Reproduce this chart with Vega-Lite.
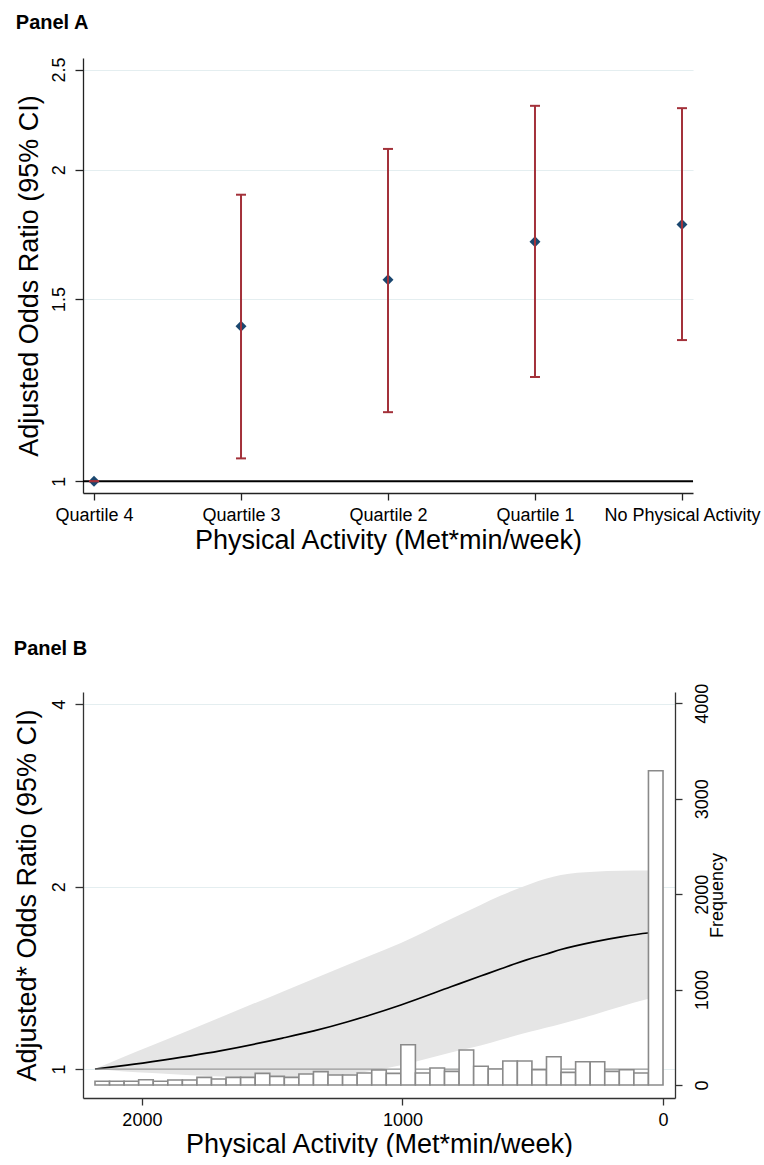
{
  "$schema": "https://vega.github.io/schema/vega-lite/v6.json",
  "background": "white",
  "padding": {"left": 13, "top": 13, "right": 0, "bottom": 0},
  "spacing": 86,
  "config": {
    "font": "Liberation Sans",
    "view": {"stroke": null},
    "axis": {
      "labelFont": "Liberation Sans", "titleFont": "Liberation Sans",
      "labelFontSize": 18, "titleFontSize": 27, "titleFontWeight": "normal",
      "labelColor": "#000", "titleColor": "#000",
      "domainColor": "#333", "tickColor": "#333", "tickSize": 7,
      "domainWidth": 1.3, "tickWidth": 1.3,
      "gridColor": "#e4eef0", "gridWidth": 1.2
    },
    "title": {"font": "Liberation Sans", "fontSize": 20, "fontWeight": "bold", "anchor": "start", "frame": "bounds", "color": "#000", "offset": 24}
  },
  "datasets": {
    "quart": [
      {"cat": "Quartile 4", "or": 1.0, "lo": 1.0, "hi": 1.0},
      {"cat": "Quartile 3", "or": 1.412, "lo": 1.052, "hi": 1.892},
      {"cat": "Quartile 2", "or": 1.566, "lo": 1.166, "hi": 2.095},
      {"cat": "Quartile 1", "or": 1.704, "lo": 1.261, "hi": 2.306},
      {"cat": "No Physical Activity", "or": 1.771, "lo": 1.369, "hi": 2.294}
    ],
    "curve": [
      {"v": 2180, "or": 1.0, "lo": 1.0, "hi": 1.0},
      {"v": 2080, "or": 1.012, "lo": 0.992, "hi": 1.043},
      {"v": 1960, "or": 1.029, "lo": 0.985, "hi": 1.095},
      {"v": 1700, "or": 1.072, "lo": 0.972, "hi": 1.217},
      {"v": 1460, "or": 1.125, "lo": 0.968, "hi": 1.342},
      {"v": 1340, "or": 1.156, "lo": 0.97, "hi": 1.409},
      {"v": 1210, "or": 1.197, "lo": 0.978, "hi": 1.486},
      {"v": 1130, "or": 1.226, "lo": 0.992, "hi": 1.535},
      {"v": 1006, "or": 1.276, "lo": 1.015, "hi": 1.614},
      {"v": 814, "or": 1.367, "lo": 1.065, "hi": 1.768},
      {"v": 700, "or": 1.424, "lo": 1.094, "hi": 1.866},
      {"v": 622, "or": 1.464, "lo": 1.118, "hi": 1.933},
      {"v": 507, "or": 1.522, "lo": 1.153, "hi": 2.023},
      {"v": 450, "or": 1.547, "lo": 1.17, "hi": 2.061},
      {"v": 392, "or": 1.575, "lo": 1.187, "hi": 2.091},
      {"v": 265, "or": 1.622, "lo": 1.229, "hi": 2.117},
      {"v": 161, "or": 1.653, "lo": 1.268, "hi": 2.124},
      {"v": 59, "or": 1.677, "lo": 1.305, "hi": 2.126},
      {"v": 0, "or": 1.685, "lo": 1.32, "hi": 2.127}
    ],
    "hist": [
      {"x0": 2180, "x1": 2124.1, "n": 39},
      {"x0": 2124.1, "x1": 2068.2, "n": 39},
      {"x0": 2068.2, "x1": 2012.3, "n": 39},
      {"x0": 2012.3, "x1": 1956.4, "n": 56},
      {"x0": 1956.4, "x1": 1900.5, "n": 39},
      {"x0": 1900.5, "x1": 1844.6, "n": 52},
      {"x0": 1844.6, "x1": 1788.7, "n": 52},
      {"x0": 1788.7, "x1": 1732.8, "n": 80},
      {"x0": 1732.8, "x1": 1676.9, "n": 63},
      {"x0": 1676.9, "x1": 1621.0, "n": 80},
      {"x0": 1621.0, "x1": 1565.1, "n": 80},
      {"x0": 1565.1, "x1": 1509.2, "n": 122},
      {"x0": 1509.2, "x1": 1453.3, "n": 91},
      {"x0": 1453.3, "x1": 1397.4, "n": 80},
      {"x0": 1397.4, "x1": 1341.5, "n": 115},
      {"x0": 1341.5, "x1": 1285.6, "n": 140},
      {"x0": 1285.6, "x1": 1229.7, "n": 105},
      {"x0": 1229.7, "x1": 1173.8, "n": 105},
      {"x0": 1173.8, "x1": 1117.9, "n": 126},
      {"x0": 1117.9, "x1": 1062.1, "n": 157},
      {"x0": 1062.1, "x1": 1006.2, "n": 122},
      {"x0": 1006.2, "x1": 950.3, "n": 422},
      {"x0": 950.3, "x1": 894.4, "n": 126},
      {"x0": 894.4, "x1": 838.5, "n": 178},
      {"x0": 838.5, "x1": 782.6, "n": 143},
      {"x0": 782.6, "x1": 726.7, "n": 367},
      {"x0": 726.7, "x1": 670.8, "n": 196},
      {"x0": 670.8, "x1": 614.9, "n": 168},
      {"x0": 614.9, "x1": 559.0, "n": 252},
      {"x0": 559.0, "x1": 503.1, "n": 252},
      {"x0": 503.1, "x1": 447.2, "n": 160},
      {"x0": 447.2, "x1": 391.3, "n": 297},
      {"x0": 391.3, "x1": 335.4, "n": 133},
      {"x0": 335.4, "x1": 279.5, "n": 244},
      {"x0": 279.5, "x1": 223.6, "n": 244},
      {"x0": 223.6, "x1": 167.7, "n": 143},
      {"x0": 167.7, "x1": 111.8, "n": 160},
      {"x0": 111.8, "x1": 55.9, "n": 126},
      {"x0": 55.9, "x1": 0, "n": 3294}
    ]
  },
  "vconcat": [
    {
      "title": {"text": "Panel A"},
      "width": 610,
      "height": 435,
      "data": {"name": "quart"},
      "layer": [
        {
          "data": {"values": [{}]},
          "mark": {"type": "rule", "color": "#000", "strokeWidth": 2},
          "encoding": {"y": {"datum": 1, "type": "quantitative"}}
        },
        {
          "mark": {"type": "point", "shape": "diamond", "filled": true, "color": "#1a476f", "size": 120, "opacity": 1},
          "encoding": {
            "x": {
              "field": "cat", "type": "ordinal",
              "scale": {"type": "point", "padding": 0.075, "domain": ["Quartile 4", "Quartile 3", "Quartile 2", "Quartile 1", "No Physical Activity"]},
              "axis": {"title": "Physical Activity (Met*min/week)", "labelAngle": 0, "labelBaseline": "top", "labelPadding": 6, "titlePadding": 3, "grid": false, "domainColor": "#222", "tickColor": "#222"}
            },
            "y": {
              "field": "or", "type": "quantitative",
              "scale": {"type": "log", "domain": [0.974, 2.565], "nice": false, "zero": false},
              "axis": {"title": "Adjusted Odds Ratio (95% CI)", "values": [1, 1.5, 2, 2.5], "format": "~g", "grid": true, "labelAngle": -90, "labelAlign": "center", "labelBaseline": "bottom", "labelPadding": 6.2, "tickSize": 8, "titleAngle": 270, "titleBaseline": "bottom", "titlePadding": 7, "domainColor": "#222", "tickColor": "#222"}
            }
          }
        },
        {
          "mark": {"type": "rule", "color": "#a3313a", "strokeWidth": 2},
          "encoding": {
            "x": {"field": "cat", "type": "ordinal", "scale": {"type": "point", "padding": 0.075, "domain": ["Quartile 4", "Quartile 3", "Quartile 2", "Quartile 1", "No Physical Activity"]}},
            "y": {"field": "lo", "type": "quantitative", "title": "Adjusted Odds Ratio (95% CI)"},
            "y2": {"field": "hi"}
          }
        },
        {
          "mark": {"type": "tick", "color": "#a3313a", "size": 10, "thickness": 2, "orient": "horizontal", "opacity": 1},
          "encoding": {
            "x": {"field": "cat", "type": "ordinal", "scale": {"type": "point", "padding": 0.075, "domain": ["Quartile 4", "Quartile 3", "Quartile 2", "Quartile 1", "No Physical Activity"]}},
            "y": {"field": "lo", "type": "quantitative", "title": "Adjusted Odds Ratio (95% CI)"}
          }
        },
        {
          "mark": {"type": "tick", "color": "#a3313a", "size": 10, "thickness": 2, "orient": "horizontal", "opacity": 1},
          "encoding": {
            "x": {"field": "cat", "type": "ordinal", "scale": {"type": "point", "padding": 0.075, "domain": ["Quartile 4", "Quartile 3", "Quartile 2", "Quartile 1", "No Physical Activity"]}},
            "y": {"field": "hi", "type": "quantitative", "title": "Adjusted Odds Ratio (95% CI)"}
          }
        }
      ]
    },
    {
      "title": {"text": "Panel B"},
      "width": 592,
      "height": 406,
      "layer": [
        {
          "layer": [
            {
              "data": {"name": "curve"},
              "mark": {"type": "area", "color": "#e5e5e5", "opacity": 1, "interpolate": "monotone"},
              "encoding": {
                "x": {
                  "field": "v", "type": "quantitative",
                  "scale": {"domain": [-46, 2226], "reverse": true, "nice": false, "zero": false},
                  "axis": {"title": "Physical Activity (Met*min/week)", "values": [0, 1000, 2000], "format": "d", "grid": false, "labelBaseline": "top", "labelPadding": 6, "titlePadding": 2}
                },
                "y": {
                  "field": "lo", "type": "quantitative",
                  "scale": {"type": "log", "domain": [0.896, 4.19], "nice": false, "zero": false},
                  "axis": {"title": "Adjusted* Odds Ratio (95% CI)", "values": [1, 2, 4], "format": "~g", "grid": true, "labelAngle": -90, "labelAlign": "center", "labelBaseline": "bottom", "labelPadding": 6.2, "tickSize": 8, "titleAngle": 270, "titleBaseline": "bottom", "titlePadding": 9}
                },
                "y2": {"field": "hi"}
              }
            },
            {
              "data": {"name": "curve"},
              "mark": {"type": "line", "color": "#000", "strokeWidth": 1.7, "interpolate": "monotone"},
              "encoding": {
                "x": {"field": "v", "type": "quantitative", "title": "Physical Activity (Met*min/week)"},
                "y": {"field": "or", "type": "quantitative", "title": "Adjusted* Odds Ratio (95% CI)"}
              }
            },
            {
              "data": {"values": [{}]},
              "mark": {"type": "rule", "color": "#9a9a9a", "strokeWidth": 1.2},
              "encoding": {
                "x": {"datum": 2180, "type": "quantitative"},
                "x2": {"datum": 0},
                "y": {"datum": 1, "type": "quantitative"}
              }
            }
          ]
        },
        {
          "data": {"name": "hist"},
          "mark": {"type": "bar", "fill": "white", "stroke": "#8a8a8a", "strokeWidth": 1.6},
          "encoding": {
            "x": {"field": "x0", "type": "quantitative", "title": "Physical Activity (Met*min/week)"},
            "x2": {"field": "x1"},
            "y": {
              "field": "n", "type": "quantitative",
              "scale": {"domain": [-136, 4119], "nice": false, "zero": false},
              "axis": {"orient": "right", "title": "Frequency", "titleFontSize": 18, "values": [0, 1000, 2000, 3000, 4000], "format": "d", "grid": false, "labelAngle": -90, "labelAlign": "center", "labelBaseline": "top", "labelPadding": 11, "tickSize": 7, "titleAngle": 270, "titleBaseline": "top", "titlePadding": -3}
            },
            "y2": {"datum": 0}
          }
        }
      ],
      "resolve": {"scale": {"y": "independent"}, "axis": {"y": "independent"}}
    }
  ]
}
